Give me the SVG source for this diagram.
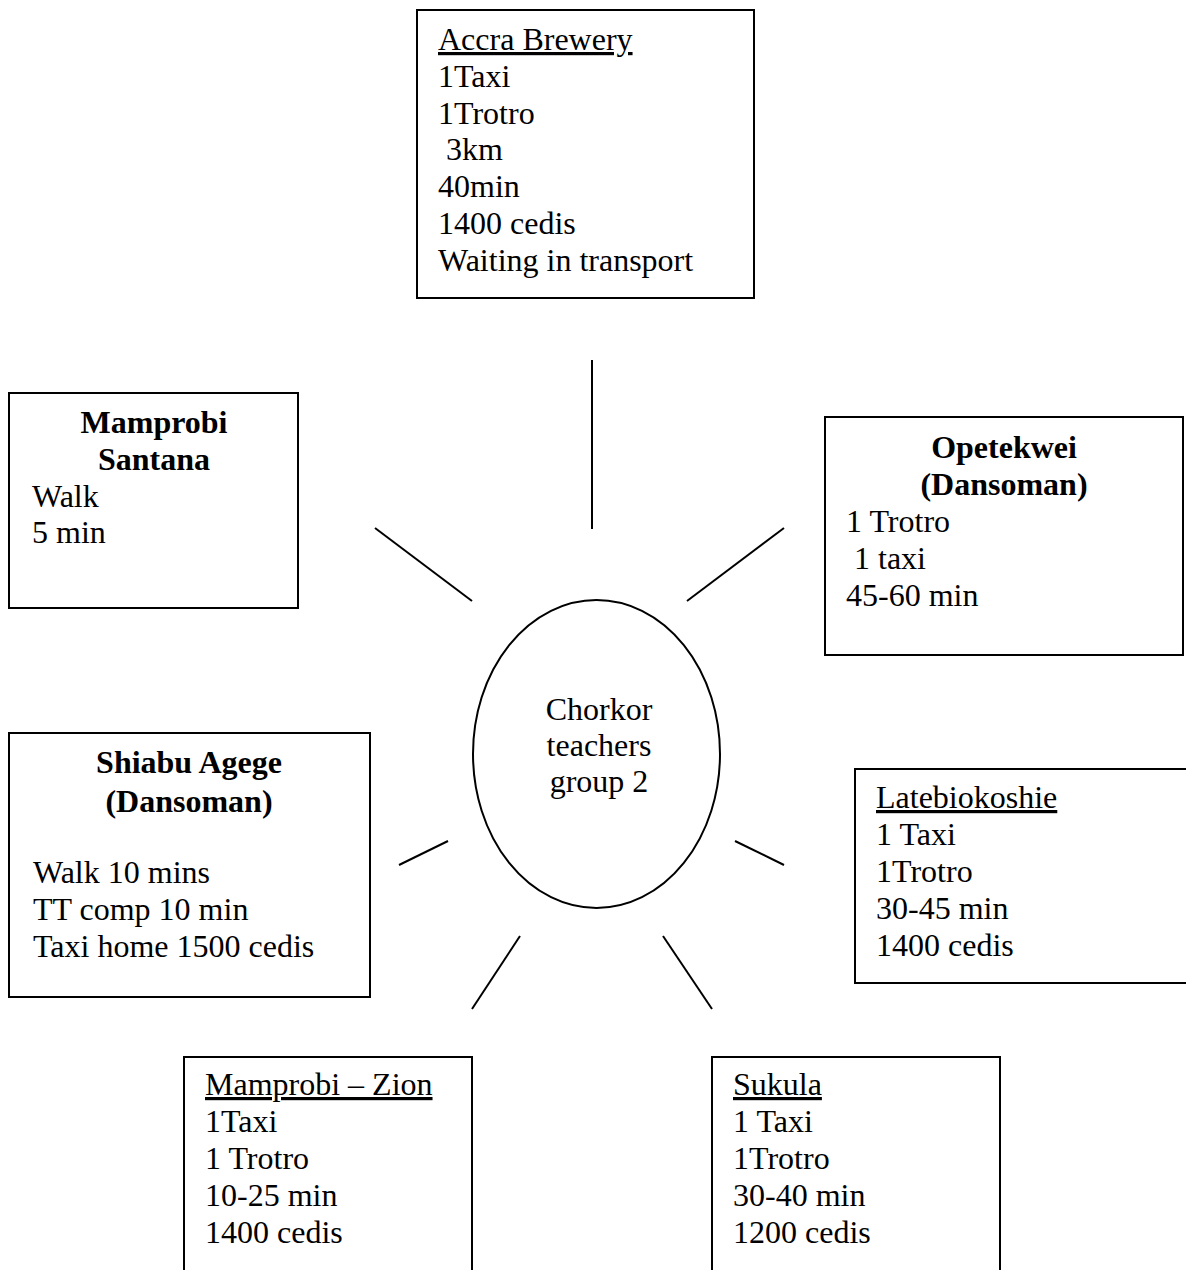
<svg xmlns="http://www.w3.org/2000/svg" width="1186" height="1270" viewBox="0 0 1186 1270">
  <style>
    text { font-family: "Liberation Serif", "Times New Roman", serif; font-size: 32px; fill: #000; }
    .b { font-weight: bold; }
    .c { text-anchor: middle; }
    .u { text-decoration: underline; }
    .box { fill: #fff; stroke: #000; stroke-width: 2; }
    .ray { stroke: #000; stroke-width: 2; fill: none; }
  </style>
  <rect width="1186" height="1270" fill="#fff"/>

  <!-- spokes from the centre hub -->
  <g id="connectors">
    <line class="ray" x1="592" y1="360" x2="592" y2="529"/>
    <line class="ray" x1="375" y1="528" x2="472" y2="601"/>
    <line class="ray" x1="784" y1="528" x2="687" y2="601"/>
    <line class="ray" x1="399" y1="865" x2="448" y2="841"/>
    <line class="ray" x1="735" y1="841" x2="784" y2="865"/>
    <line class="ray" x1="520" y1="936" x2="472" y2="1009"/>
    <line class="ray" x1="663" y1="936" x2="712" y2="1009"/>
  </g>

  <g id="hub">
    <ellipse class="box" cx="596.5" cy="754" rx="123.5" ry="154"/>
    <text class="c" x="599" y="720">Chorkor</text>
    <text class="c" x="599" y="756">teachers</text>
    <text class="c" x="599" y="792">group 2</text>
  </g>

  <g id="accra-brewery">
    <rect class="box" x="417" y="10" width="337" height="288"/>
    <text class="u" x="438" y="50">Accra Brewery</text>
    <text x="438" y="87">1Taxi</text>
    <text x="438" y="124">1Trotro</text>
    <text x="446" y="160">3km</text>
    <text x="438" y="197">40min</text>
    <text x="438" y="234">1400 cedis</text>
    <text x="438" y="271">Waiting in transport</text>
  </g>

  <g id="mamprobi-santana">
    <rect class="box" x="9" y="393" width="289" height="215"/>
    <text class="b c" x="154" y="433">Mamprobi</text>
    <text class="b c" x="154" y="470">Santana</text>
    <text x="32" y="507">Walk</text>
    <text x="32" y="543">5 min</text>
  </g>

  <g id="opetekwei">
    <rect class="box" x="825" y="417" width="358" height="238"/>
    <text class="b c" x="1004" y="458">Opetekwei</text>
    <text class="b c" x="1004" y="495">(Dansoman)</text>
    <text x="846" y="532">1 Trotro</text>
    <text x="854" y="569">1 taxi</text>
    <text x="846" y="606">45-60 min</text>
  </g>

  <g id="shiabu-agege">
    <rect class="box" x="9" y="733" width="361" height="264"/>
    <text class="b c" x="189" y="773">Shiabu Agege</text>
    <text class="b c" x="189" y="812">(Dansoman)</text>
    <text x="33" y="883">Walk 10 mins</text>
    <text x="33" y="920">TT comp 10 min</text>
    <text x="33" y="957">Taxi home 1500 cedis</text>
  </g>

  <g id="latebiokoshie">
    <rect class="box" x="855" y="769" width="345" height="214"/>
    <text class="u" x="876" y="808">Latebiokoshie</text>
    <text x="876" y="845">1 Taxi</text>
    <text x="876" y="882">1Trotro</text>
    <text x="876" y="919">30-45 min</text>
    <text x="876" y="956">1400 cedis</text>
  </g>

  <g id="mamprobi-zion">
    <rect class="box" x="184" y="1057" width="288" height="230"/>
    <text class="u" x="205" y="1095">Mamprobi – Zion</text>
    <text x="205" y="1132">1Taxi</text>
    <text x="205" y="1169">1 Trotro</text>
    <text x="205" y="1206">10-25 min</text>
    <text x="205" y="1243">1400 cedis</text>
  </g>

  <g id="sukula">
    <rect class="box" x="712" y="1057" width="288" height="230"/>
    <text class="u" x="733" y="1095">Sukula</text>
    <text x="733" y="1132">1 Taxi</text>
    <text x="733" y="1169">1Trotro</text>
    <text x="733" y="1206">30-40 min</text>
    <text x="733" y="1243">1200 cedis</text>
  </g>
</svg>
